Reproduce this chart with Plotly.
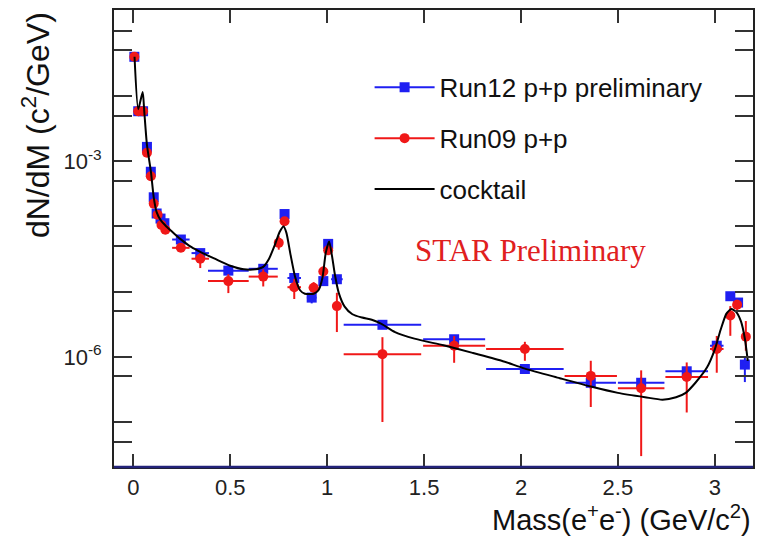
import plotly.graph_objects as go

# ---------------- data ----------------
run12_mass = [0.005, 0.025, 0.05, 0.07, 0.09, 0.105, 0.12, 0.14, 0.16, 0.245, 0.345, 0.49, 0.67,
              0.78, 0.83, 0.92, 0.98, 1.005, 1.05, 1.285, 1.655, 2.02, 2.36, 2.62, 2.855, 3.01,
              3.08, 3.12, 3.155]
run12_dndm = [4.0e-2, 5.85e-3, 5.85e-3, 1.66e-3, 6.9e-4, 2.8e-4, 1.58e-4, 1.32e-4, 1.12e-4, 6.3e-5,
              3.9e-5, 2.1e-5, 2.24e-5, 1.55e-4, 1.62e-5, 8.1e-6, 1.45e-5, 5.4e-5, 1.55e-5, 3.1e-6,
              1.86e-6, 6.5e-7, 4.0e-7, 4.0e-7, 6.0e-7, 1.48e-6, 8.5e-6, 6.8e-6, 7.6e-7]
run12_mass_err = [0.005, 0.008, 0.008, 0.008, 0.008, 0.008, 0.008, 0.008, 0.01, 0.045, 0.045, 0.105,
                  0.075, 0.012, 0.035, 0.025, 0.012, 0.012, 0.03, 0.2, 0.16, 0.2, 0.13, 0.12, 0.11,
                  0.035, 0.012, 0.012, 0.012]
run12_err_up = [2e-3, 4e-4, 4e-4, 1.2e-4, 5e-5, 2.5e-5, 1.4e-5, 1.2e-5, 1.0e-5, 6e-6, 4e-6, 2e-6,
                2.5e-6, 1.5e-5, 2.5e-6, 1.5e-6, 2e-6, 5e-6, 2e-6, 3e-7, 2.5e-7, 1.0e-7, 8e-8, 8e-8,
                1.0e-7, 2.5e-7, 1.2e-6, 1.0e-6, 2.4e-7]
run12_err_dn = [2e-3, 4e-4, 4e-4, 1.2e-4, 5e-5, 2.5e-5, 1.4e-5, 1.2e-5, 1.0e-5, 6e-6, 4e-6, 2e-6,
                2.5e-6, 1.5e-5, 2.5e-6, 1.5e-6, 2e-6, 5e-6, 2e-6, 3e-7, 2.5e-7, 1.0e-7, 8e-8, 8e-8,
                1.0e-7, 2.5e-7, 1.2e-6, 1.0e-6, 3.5e-7]

run09_mass = [0.005, 0.025, 0.05, 0.07, 0.09, 0.105, 0.125, 0.145, 0.165, 0.245, 0.345, 0.49, 0.67,
              0.75, 0.78, 0.83, 0.93, 0.98, 1.005, 1.05, 1.285, 1.655, 2.02, 2.36, 2.62, 2.855,
              3.01, 3.08, 3.115, 3.16]
run09_dndm = [4.0e-2, 5.85e-3, 5.85e-3, 1.35e-3, 5.9e-4, 2.24e-4, 1.51e-4, 1.05e-4, 8.9e-5, 4.7e-5,
              3.2e-5, 1.45e-5, 1.7e-5, 5.6e-5, 1.2e-4, 1.17e-5, 1.15e-5, 2.04e-5, 4.3e-5, 6.0e-6,
              1.1e-6, 1.48e-6, 1.32e-6, 5.1e-7, 3.3e-7, 4.9e-7, 1.32e-6, 4.3e-6, 6.3e-6, 2.04e-6]
run09_mass_err = [0.005, 0.008, 0.008, 0.008, 0.008, 0.008, 0.008, 0.008, 0.01, 0.045, 0.045, 0.105,
                  0.075, 0.012, 0.012, 0.035, 0.025, 0.012, 0.012, 0.012, 0.2, 0.16, 0.2, 0.135,
                  0.12, 0.11, 0.035, 0.012, 0.012, 0.012]
run09_err_up = [2e-3, 5e-4, 5e-4, 1.2e-4, 6e-5, 2.5e-5, 1.8e-5, 1.2e-5, 1.0e-5, 6e-6, 7e-6, 4e-6,
                5e-6, 1.5e-5, 1.5e-5, 4e-6, 2.5e-6, 4e-6, 6e-6, 3.6e-6, 0.9e-6, 0.6e-6, 0.38e-6,
                3.6e-7, 2.9e-7, 3.3e-7, 0.77e-6, 1.7e-6, 1.2e-6, 1.5e-6]
run09_err_dn = [2e-3, 5e-4, 5e-4, 1.2e-4, 6e-5, 2.5e-5, 1.8e-5, 1.2e-5, 1.0e-5, 6e-6, 9e-6, 5e-6,
                5e-6, 1.2e-5, 1.5e-5, 4e-6, 2.5e-6, 4e-6, 6e-6, 3.6e-6, 1.0e-6, 0.67e-6, 0.45e-6,
                3.4e-7, 3.0e-7, 3.5e-7, 0.75e-6, 2.2e-6, 1.2e-6, 0.8e-6]

cocktail_mass = [0.006, 0.025, 0.048, 0.056, 0.07, 0.09, 0.105, 0.12, 0.14, 0.17, 0.2, 0.24, 0.3,
                 0.35, 0.42, 0.5, 0.57, 0.63, 0.67, 0.7, 0.73, 0.755, 0.775, 0.79, 0.81, 0.835,
                 0.86, 0.885, 0.93, 0.955, 0.975, 0.993, 1.01, 1.025, 1.04, 1.06, 1.09, 1.13, 1.18,
                 1.23, 1.28, 1.35, 1.45, 1.6, 1.75, 1.9, 2.02, 2.2, 2.36, 2.5, 2.64, 2.73, 2.8,
                 2.85, 2.9, 2.96, 3.0, 3.03, 3.06, 3.085, 3.11, 3.135, 3.155, 3.17]
cocktail_dndm = [4.0e-2, 6.3e-3, 1.15e-2, 5.9e-3, 1.78e-3, 7.1e-4, 2.8e-4, 1.66e-4, 1.26e-4, 1.0e-4,
                 8.3e-5, 6.5e-5, 4.8e-5, 4.0e-5, 3.2e-5, 2.5e-5, 2.2e-5, 2.2e-5, 2.4e-5, 3.2e-5,
                 5.2e-5, 8.3e-5, 1.0e-4, 7.9e-5, 3.8e-5, 1.66e-5, 1.05e-5, 9.3e-6, 9.3e-6, 1.05e-5,
                 1.6e-5, 4.0e-5, 5.9e-5, 3.5e-5, 1.8e-5, 9.5e-6, 5.9e-6, 4.5e-6, 4.0e-6, 3.7e-6,
                 3.2e-6, 2.4e-6, 1.9e-6, 1.5e-6, 1.15e-6, 8.7e-7, 6.6e-7, 4.7e-7, 3.5e-7, 2.8e-7,
                 2.4e-7, 2.2e-7, 2.4e-7, 2.8e-7, 4.0e-7, 6.9e-7, 1.3e-6, 2.6e-6, 4.6e-6, 5.4e-6,
                 4.9e-6, 3.5e-6, 1.9e-6, 8.7e-7]

x_tick_vals = [0, 0.5, 1, 1.5, 2, 2.5, 3]
x_tick_text = ["0", "0.5", "1", "1.5", "2", "2.5", "3"]
y_tick_vals = [1e-6, 1e-3]
y_tick_text = ["10<sup>-6</sup>", "10<sup>-3</sup>"]
y_minor_vals = [5e-8, 1e-7, 5e-7, 5e-6, 1e-5, 5e-5, 1e-4, 5e-4, 5e-3, 1e-2, 5e-2, 1e-1]

BLUE = "#1f1ff2"
RED = "#f01818"
FONT = "Arial, 'Liberation Sans', Helvetica, sans-serif"

fig = go.Figure()

fig.add_trace(go.Scatter(
    x=run12_mass, y=run12_dndm, mode="markers", showlegend=False,
    marker=dict(symbol="square", size=10, color=BLUE),
    error_x=dict(type="data", array=run12_mass_err, color=BLUE, thickness=2, width=0),
    error_y=dict(type="data", array=run12_err_up, arrayminus=run12_err_dn, symmetric=False,
                 color=BLUE, thickness=2, width=0),
))
fig.add_trace(go.Scatter(
    x=run09_mass, y=run09_dndm, mode="markers", showlegend=False,
    marker=dict(symbol="circle", size=10, color=RED),
    error_x=dict(type="data", array=run09_mass_err, color=RED, thickness=2, width=0),
    error_y=dict(type="data", array=run09_err_up, arrayminus=run09_err_dn, symmetric=False,
                 color=RED, thickness=2, width=0),
))
fig.add_trace(go.Scatter(
    x=cocktail_mass, y=cocktail_dndm, mode="lines", showlegend=False,
    line=dict(color="black", width=2, shape="spline", smoothing=0.6),
))

# legend entries
fig.add_trace(go.Scatter(x=[None], y=[None], mode="lines+markers", name="Run12 p+p preliminary",
                         legendgroup="a", marker=dict(symbol="square", size=10, color=BLUE),
                         line=dict(color=BLUE, width=2)))
fig.add_trace(go.Scatter(x=[None], y=[None], mode="lines+markers", name="Run09 p+p",
                         legendgroup="b", marker=dict(symbol="circle", size=10, color=RED),
                         line=dict(color=RED, width=2)))
fig.add_trace(go.Scatter(x=[None], y=[None], mode="lines", name="cocktail",
                         legendgroup="c", line=dict(color="black", width=2)))

fig.add_annotation(text="STAR Preliminary", xref="x", yref="paper", x=2.05, y=0.473,
                   showarrow=False, font=dict(family="'Liberation Serif', 'Times New Roman', serif",
                                                size=31, color="#e0201e"))
fig.add_annotation(text="dN/dM (c<sup>2</sup>/GeV)", xref="paper", yref="paper", x=-0.122, y=1.0,
                   xanchor="center", yanchor="top", textangle=-90, showarrow=False,
                   font=dict(family=FONT, size=32, color="#111"))
fig.add_annotation(text="Mass(e<sup>+</sup>e<sup>-</sup>) (GeV/c<sup>2</sup>)", xref="paper",
                   yref="paper", x=1.0, y=-0.111, xanchor="right", yanchor="middle", showarrow=False,
                   font=dict(family=FONT, size=29, color="#111"))

fig.add_shape(type="line", xref="paper", yref="paper", x0=0, x1=1, y0=0, y1=0,
              line=dict(color="#23237a", width=2.5))

fig.update_layout(
    width=769, height=538,
    margin=dict(l=114, r=16, t=8, b=71),
    paper_bgcolor="white", plot_bgcolor="white",
    font=dict(family=FONT, color="#222"),
    showlegend=True,
    legend=dict(x=0.40, y=0.882, xanchor="left", yanchor="top", bgcolor="rgba(0,0,0,0)",
                font=dict(family=FONT, size=26, color="#111"), itemwidth=60,
                traceorder="grouped", tracegroupgap=14),
    xaxis=dict(range=[-0.1, 3.197], showgrid=False, zeroline=False,
               tickmode="array", tickvals=x_tick_vals, ticktext=x_tick_text,
               ticks="inside", ticklen=13, tickwidth=1.5, tickcolor="#333",
               showline=True, linecolor="#222", linewidth=2, mirror="ticks",
               tickfont=dict(size=22, color="#222"), ticklabelstandoff=0),
    yaxis=dict(type="log", range=[-7.69, -0.68], showgrid=False, zeroline=False,
               tickmode="array", tickvals=y_tick_vals, ticktext=y_tick_text,
               ticks="inside", ticklen=18, tickwidth=1.5, tickcolor="#333",
               minor=dict(tickmode="array", tickvals=y_minor_vals, ticks="inside", ticklen=18,
                          tickwidth=1.5, tickcolor="#333", showgrid=False),
               showline=True, linecolor="#222", linewidth=2, mirror="ticks",
               tickfont=dict(size=22, color="#222"), ticklabelstandoff=6),
)

fig.write_html("out.html")
